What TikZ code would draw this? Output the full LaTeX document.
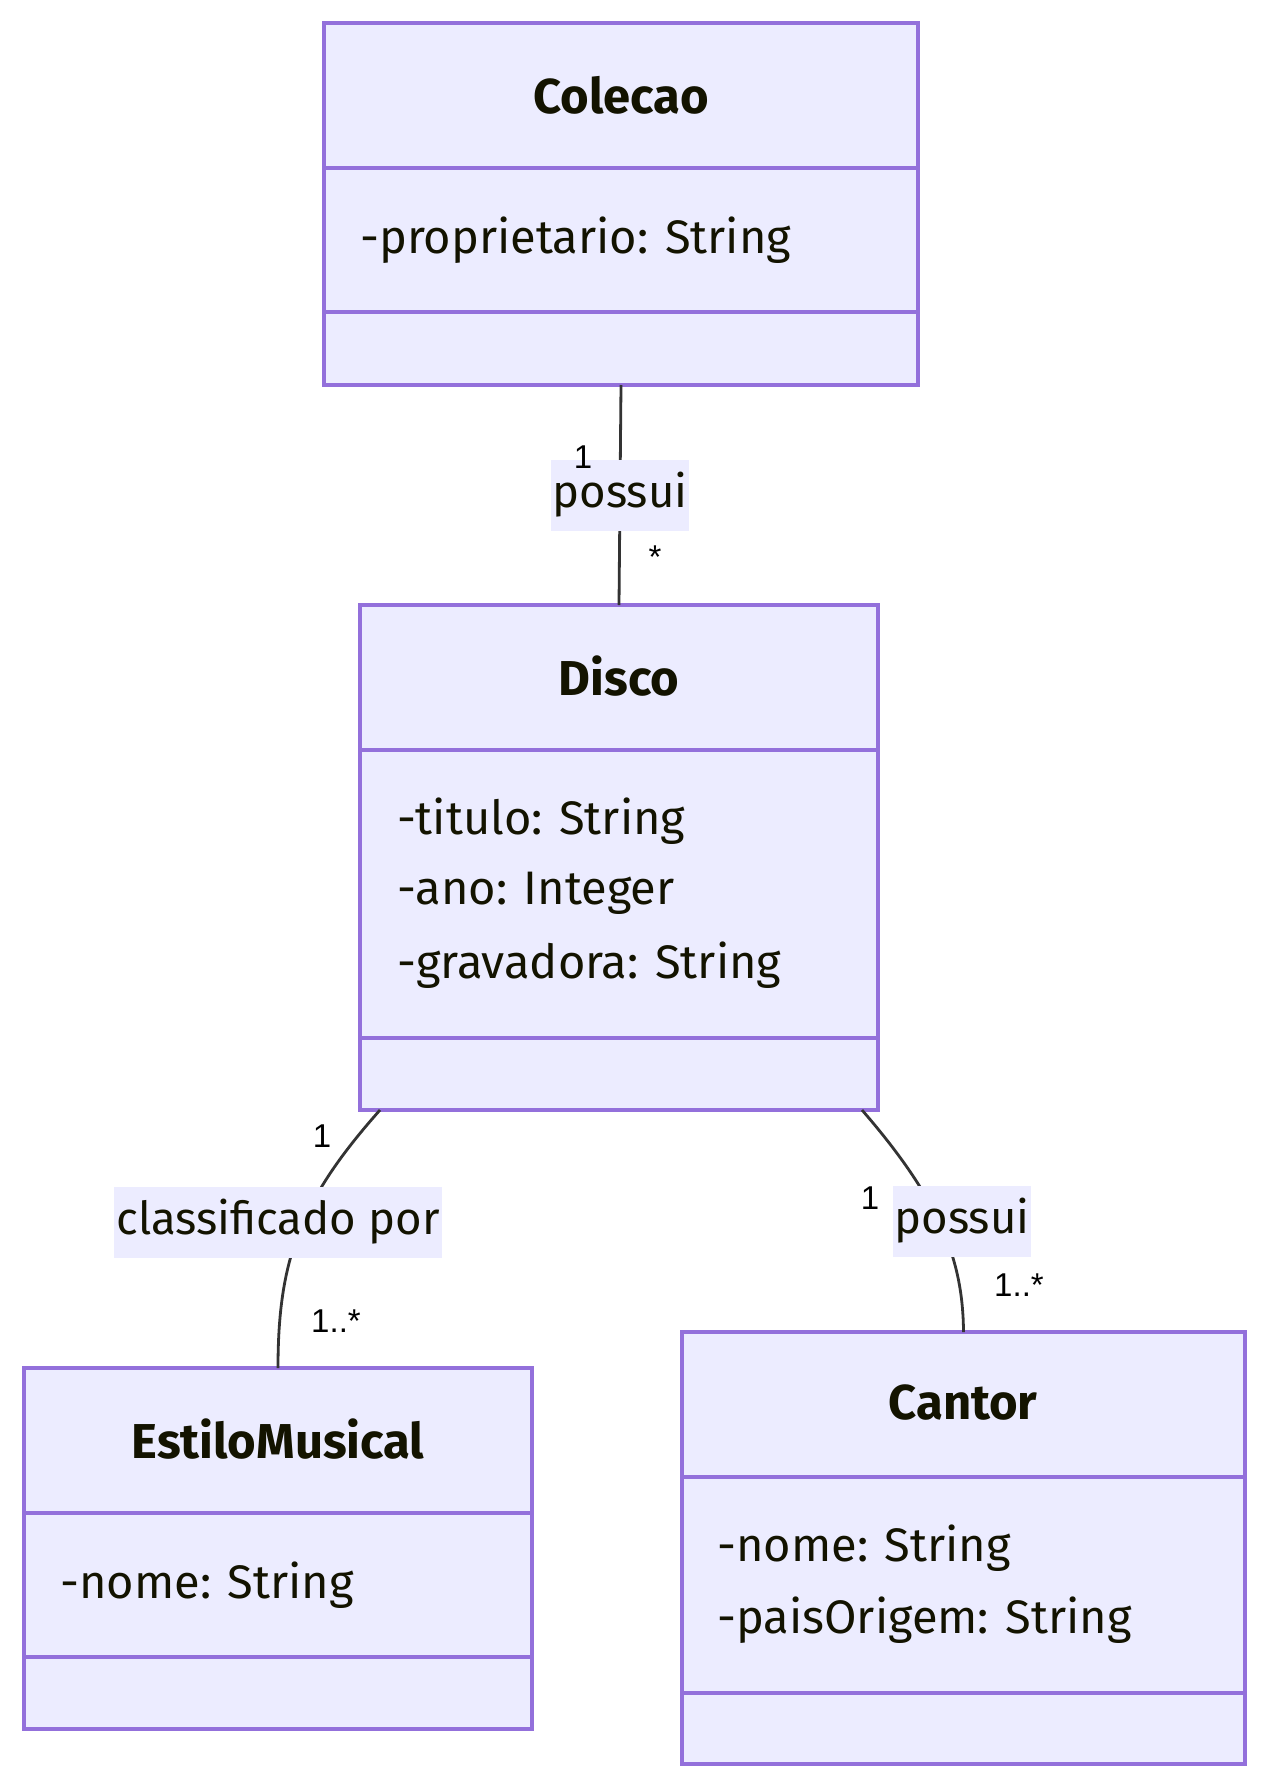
\documentclass[tikz,border=0pt]{standalone}
\usepackage{fontspec}
\setmainfont{Fira Sans}
\newfontfamily\multfont{Liberation Sans}
\definecolor{nodefill}{HTML}{ECECFF}
\definecolor{nodeborder}{HTML}{9370DB}
\definecolor{edgecol}{HTML}{333333}
\definecolor{txtcol}{HTML}{131300}
\begin{document}
\begin{tikzpicture}[x=1pt,y=-1pt,
  classbox/.style={draw=nodeborder, fill=nodefill, line width=3.4pt, anchor=north west, inner sep=0pt, outer sep=0pt},
  divider/.style={draw=nodeborder, line width=3.4pt},
  title/.style={text=txtcol, font=\fontsize{49}{56}\selectfont\bfseries, inner sep=0pt},
  attr/.style={text=txtcol, font=\fontsize{47}{54}\selectfont, anchor=west, inner sep=0pt},
  edge/.style={draw=edgecol, line width=2.8pt},
  elabel/.style={fill=nodefill, text=txtcol, font=\fontsize{45.5}{52}\selectfont, inner xsep=2pt, inner ysep=0pt, minimum height=71pt},
  mult/.style={text=black, font=\multfont\fontsize{33}{38}\selectfont, inner sep=0pt}
]
\useasboundingbox (0,0) rectangle (1266,1788);

% Class boxes
\node[classbox, minimum width=594pt, minimum height=362pt] (colecao) at (324,23) {};
\node[classbox, minimum width=518pt, minimum height=505pt] (disco) at (360,605) {};
\node[classbox, minimum width=508pt, minimum height=361pt] (estilo) at (24,1368) {};
\node[classbox, minimum width=563pt, minimum height=432pt] (cantor) at (682,1332) {};

% Dividers
\draw[divider] (324,168) -- (918,168);
\draw[divider] (324,312) -- (918,312);
\draw[divider] (360,750) -- (878,750);
\draw[divider] (360,1038) -- (878,1038);
\draw[divider] (24,1513) -- (532,1513);
\draw[divider] (24,1657) -- (532,1657);
\draw[divider] (682,1477) -- (1245,1477);
\draw[divider] (682,1693) -- (1245,1693);

% Titles and attributes
\node[title] (colecaoT) at (621,95) {Colecao};
\node[attr] (colecaoA1) at (360,240) {-proprietario: String};

\node[title] (discoT) at (619,676) {Disco};
\node[attr] (discoA1) at (397,821) {-titulo: String};
\node[attr] (discoA2) at (397,893) {-ano: Integer};
\node[attr] (discoA3) at (397,965) {-gravadora: String};

\node[title] (estiloT) at (278,1439) {EstiloMusical};
\node[attr] (estiloA1) at (60,1585) {-nome: String};

\node[title] (cantorT) at (963,1403) {Cantor};
\node[attr] (cantorA1) at (717,1548) {-nome: String};
\node[attr] (cantorA2) at (717,1620) {-paisOrigem: String};

% Connectors
\coordinate (dse) at (380,1110);
\coordinate (dsc) at (862,1110);
\draw[edge] (colecao.south) -- (disco.north);
\draw[edge] (dse) .. controls (300,1200) and (278,1260) .. (estilo.north);
\draw[edge] (dsc) .. controls (940,1200) and (963,1260) .. (cantor.north);

% Edge labels
\node[elabel] (lbl1) at (620,495) {possui};
\node[elabel] (lbl2) at (278,1222) {classificado por};
\node[elabel] (lbl3) at (962,1221) {possui};

% Multiplicities
\node[mult] (m1a) at (583,457) {1};
\node[mult] (m1b) at (655,557) {*};
\node[mult] (m2a) at (322,1136) {1};
\node[mult] (m2b) at (336,1321) {1..*};
\node[mult] (m3a) at (870,1198) {1};
\node[mult] (m3b) at (1019,1285) {1..*};
\end{tikzpicture}
\end{document}
